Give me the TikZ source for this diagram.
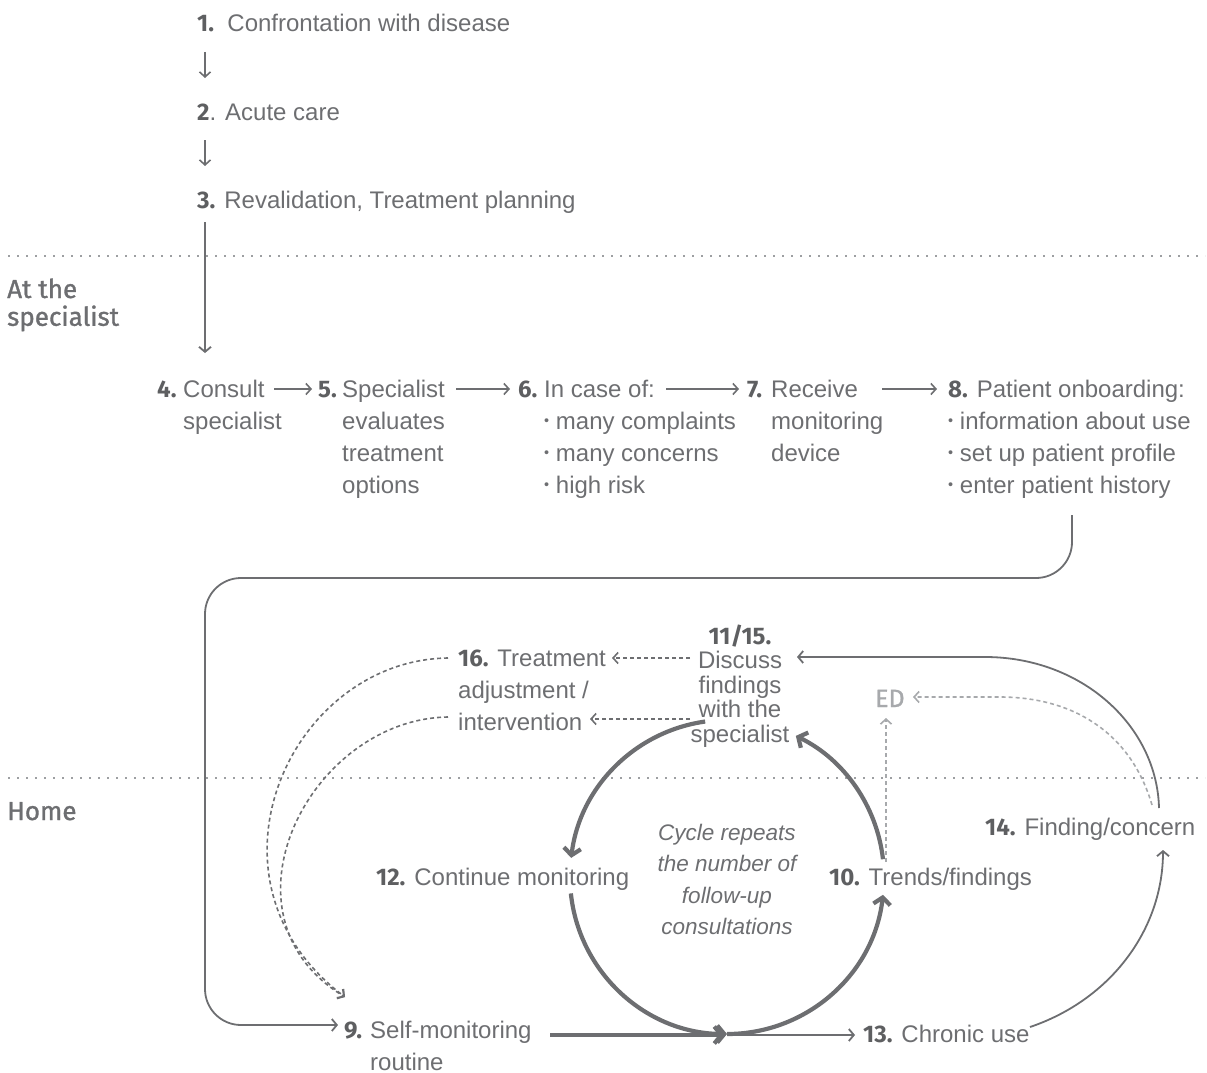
\documentclass[tikz,border=0pt]{standalone}
\usepackage{fontspec}
\usepackage{graphicx}
\setmainfont{Liberation Sans}
\newfontfamily\dinfont{Fira Sans}
\newfontfamily\dinmed{Fira Sans}[FakeBold=1.2]
\usetikzlibrary{arrows.meta}
\definecolor{txt}{HTML}{6D6E71}
\definecolor{numc}{HTML}{5E5F61}
\definecolor{lite}{HTML}{A7A9AC}
\definecolor{dotc}{HTML}{9D9FA2}
\newcommand{\nm}[1]{{\dinfont\bfseries\color{numc}#1}}
\newcommand{\ml}[1]{\begin{tabular}[t]{@{}l@{}}#1\end{tabular}}
\newcommand{\mc}[1]{\begin{tabular}[t]{@{}c@{}}#1\end{tabular}}
\newcommand{\bul}{\raisebox{0.3ex}{\scalebox{0.6}{\textbullet}}\ }
\begin{document}
\begin{tikzpicture}[x=1pt,y=-1pt,
  lbl/.style={anchor=base west, inner sep=0pt, text=txt, font=\fontsize{24}{32}\selectfont},
  lblc/.style={anchor=base, inner sep=0pt, text=txt, font=\fontsize{24}{24}\selectfont},
  zone/.style={anchor=base west, inner sep=0pt, text=txt, font=\dinmed\fontsize{26}{25}\selectfont},
  sep/.style={draw=dotc, line width=1.6pt, dash pattern=on 1.6pt off 7.4pt},
  conn/.style={draw=txt, line width=1.8pt, -{Straight Barb[length=5pt,width=12pt]}},
  rowarr/.style={draw=txt, line width=1.6pt, -{Straight Barb[length=5pt,width=11pt]}},
  thick cycle/.style={draw=txt, line width=4.2pt, -{Straight Barb[length=7pt,width=17pt]}},
  dconn/.style={draw=txt, line width=1.6pt, dash pattern=on 4pt off 3pt, -{Straight Barb[length=5pt,width=11pt]}},
  lconn/.style={draw=lite, line width=1.6pt, dash pattern=on 4pt off 3pt, -{Straight Barb[length=5pt,width=11pt]}}
]
\useasboundingbox (0,0) rectangle (1207,1073);

% separators
\draw[sep] (8,256) -- (1205,256);
\draw[sep] (8,778) -- (1205,778);
\node[zone] (zspec) at (7,298) {\ml{At the\\specialist}};
\node[zone] (zhome) at (7,820) {Home};

% top chain
\node[lbl] (n1) at (197,32) {\nm{1.}\ \ Confrontation with disease};
\node[lbl] (n2) at (197,120) {\nm{2}. Acute care};
\node[lbl] (n3) at (197,208) {\nm{3.} Revalidation, Treatment planning};
\coordinate (a1s) at (205,52); \coordinate (a1e) at (205,78);
\coordinate (a2s) at (205,140); \coordinate (a2e) at (205,166);
\coordinate (a3s) at (205,222); \coordinate (a3e) at (205,353);
\draw[rowarr] (a1s) -- (a1e);
\draw[rowarr] (a2s) -- (a2e);
\draw[conn] (a3s) -- (a3e);

% specialist row
\node[lbl] (n4num) at (157,397) {\nm{4.}};
\node[lbl] (n4) at (183,397) {\ml{Consult\\specialist}};
\node[lbl] (n5num) at (318,397) {\nm{5.}};
\node[lbl] (n5) at (342,397) {\ml{Specialist\\evaluates\\treatment\\options}};
\node[lbl] (n6num) at (518,397) {\nm{6.}};
\node[lbl] (n6) at (544,397) {\ml{In case of:\\\bul many complaints\\\bul many concerns\\\bul high risk}};
\node[lbl] (n7num) at (747,397) {\nm{7.}};
\node[lbl] (n7) at (771,397) {\ml{Receive\\monitoring\\device}};
\node[lbl] (n8) at (948,397) {\ml{\nm{8.} Patient onboarding:\\\bul information about use\\\bul set up patient profile\\\bul enter patient history}};

\coordinate (r1s) at (274,389); \coordinate (r1e) at (312,389);
\coordinate (r2s) at (456,389); \coordinate (r2e) at (510,389);
\coordinate (r3s) at (666,389); \coordinate (r3e) at (739,389);
\coordinate (r4s) at (882,389); \coordinate (r4e) at (937,389);
\draw[rowarr] (r1s) -- (r1e);
\draw[rowarr] (r2s) -- (r2e);
\draw[rowarr] (r3s) -- (r3e);
\draw[rowarr] (r4s) -- (r4e);

% long connector 8 -> 9
\coordinate (c8) at (1072,515);
\coordinate (c9) at (338,1025);
\draw[conn, rounded corners=36pt] (c8) -- (1072,578) -- (205,578) -- (205,1025) -- (c9);

% home nodes
\node[lblc] (n11) at (740,644) {\mc{\nm{11/15.}\\Discuss\\findings\\with the\\specialist}};
\node[lbl] (n16) at (458,666) {\ml{\nm{16.} Treatment\\adjustment /\\intervention}};
\node[anchor=base west, inner sep=0pt, text=lite, font=\dinmed\fontsize{25}{25}\selectfont] (ed) at (875,707) {ED};
\node[lbl] (n12) at (376,885) {\nm{12.} Continue monitoring};
\node[anchor=base, inner sep=0pt, text=txt, font=\itshape\fontsize{22.5}{31.5}\selectfont] (cyc) at (727,840) {\mc{Cycle repeats\\the number of\\follow-up\\consultations}};
\node[lbl] (n10) at (829,885) {\nm{10.} Trends/findings};
\node[lbl] (n14) at (985,835) {\nm{14.} Finding/concern};
\node[lbl] (n9num) at (344,1038) {\nm{9.}};
\node[lbl] (n9) at (370,1038) {\ml{Self-monitoring\\routine}};
\node[lbl] (n13) at (863,1042) {\nm{13.} Chronic use};

% dashed 11/15 -> 16
\draw[dconn] (690,658) -- (612,658);
\draw[dconn] (690,719) -- (590,719);
% dashed 16 -> 9
\draw[dconn] (448,658) .. controls (290,660) and (190,880) .. (345,997);
\draw[dconn] (448,717) .. controls (310,719) and (210,915) .. (345,997);

% cycle
\coordinate (C) at (727,877);
\draw[thick cycle] ([shift={(-98:157)}]C) arc[start angle=-98, end angle=-173, radius=157];
\draw[thick cycle] ([shift={(-186:157)}]C) arc[start angle=-186, end angle=-270, radius=157];
\draw[thick cycle] ([shift={(-270:157)}]C) arc[start angle=-270, end angle=-353.5, radius=157];
\draw[thick cycle] ([shift={(-6.5:157)}]C) arc[start angle=-6.5, end angle=-64, radius=157];
\draw[thick cycle] (550,1035) -- (724,1035);
\draw[conn] (727,1035) -- (855,1035);

% 13 -> 14 -> 11/15
\draw[conn] (1030,1027) .. controls (1110,1000) and (1163,930) .. (1163,850);
\draw[conn] (1159,808) .. controls (1157,726) and (1082,657) .. (985,657) -- (797,657);
% 14 -> ED
\draw[lconn] (1152,805) .. controls (1130,730) and (1070,697) .. (1000,697) -- (913,697);
\draw[lconn] (886,862) -- (886,718);
\end{tikzpicture}
\end{document}
